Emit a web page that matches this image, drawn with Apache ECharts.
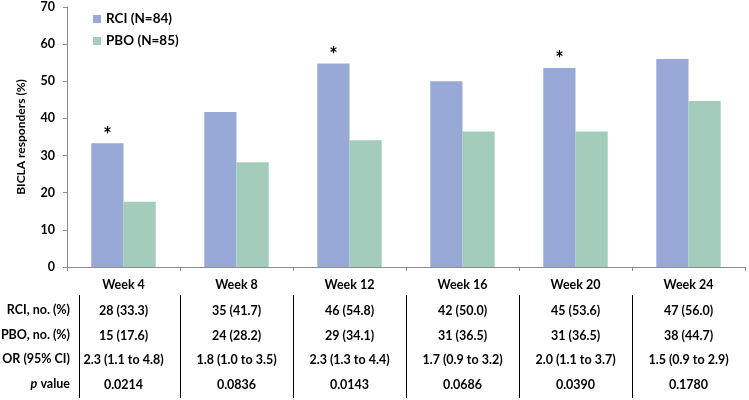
<!DOCTYPE html>
<html>
<head>
<meta charset="utf-8">
<script src="https://cdn.jsdelivr.net/npm/echarts@6/dist/echarts.min.js"></script>
<style>
html,body{margin:0;padding:0;background:#fff;}
#c{width:749px;height:400px;}
</style>
</head>
<body>
<div id="c"></div>
<script>
var weeks = ['Week 4', 'Week 8', 'Week 12', 'Week 16', 'Week 20', 'Week 24'];
var rciValues = [33.3, 41.7, 54.8, 50.0, 53.6, 56.0];
var pboValues = [17.6, 28.2, 34.1, 36.5, 36.5, 44.7];
var significant = ['*', '', '*', '', '*', ''];
var rciRow = ['28 (33.3)', '35 (41.7)', '46 (54.8)', '42 (50.0)', '45 (53.6)', '47 (56.0)'];
var pboRow = ['15 (17.6)', '24 (28.2)', '29 (34.1)', '31 (36.5)', '31 (36.5)', '38 (44.7)'];
var orRow = ['2.3 (1.1 to 4.8)', '1.8 (1.0 to 3.5)', '2.3 (1.3 to 4.4)', '1.7 (0.9 to 3.2)', '2.0 (1.1 to 3.7)', '1.5 (0.9 to 2.9)'];
var pRow = ['0.0214', '0.0836', '0.0143', '0.0686', '0.0390', '0.1780'];
var rowLabels = ['RCI, no. (%)', 'PBO, no. (%)', 'OR (95% CI)', '{i|p} value'];
var yTicks = [0, 10, 20, 30, 40, 50, 60, 70];

var FONT = 'Lato';
var TXT = '#000';
var TFS = 12.5;
var gridLeft = 67, gridRight = 4, gridTop = 7, gridBottom = 133;
var W = 749, H = 400;
var axisY = H - gridBottom;
var rowCenters = [44, 69, 93, 118];

function tableAxis(data, offset) {
  return {
    type: 'category', data: data, gridIndex: 0, position: 'bottom', offset: offset,
    axisLine: {show: false}, axisTick: {show: false},
    axisLabel: {margin: 0, verticalAlign: 'middle', fontFamily: FONT, fontWeight: 'bold', fontSize: TFS, color: TXT, interval: 0}
  };
}

var chart = echarts.init(document.getElementById('c'), null, {renderer: 'canvas'});
var xAxes = [{
  type: 'category', data: weeks, gridIndex: 0,
  axisLine: {lineStyle: {color: '#8c8c8c', width: 1}},
  axisTick: {show: true, length: 4, lineStyle: {color: '#8c8c8c'}},
  axisLabel: {margin: 18, verticalAlign: 'middle', fontFamily: FONT, fontWeight: 'bold', fontSize: TFS, color: TXT, interval: 0}
}];
[rciRow, pboRow, orRow, pRow].forEach(function (r, i) { xAxes.push(tableAxis(r, rowCenters[i])); });

var plotW = W - gridLeft - gridRight;
var catW = plotW / weeks.length;
var graphics = [];
rowLabels.forEach(function (t, i) {
  graphics.push({
    type: 'text', right: W - 70, top: axisY + rowCenters[i] - 8,
    style: {text: t, fontFamily: FONT, fontWeight: 'bold', fontSize: TFS, fill: TXT, align: 'right',
      rich: {i: {fontStyle: 'italic', fontFamily: FONT, fontWeight: 'bold', fontSize: TFS, fill: TXT}}}
  });
});
var seps = [79];
for (var k = 1; k < weeks.length; k++) seps.push(gridLeft + k * catW);
seps.forEach(function (x) {
  graphics.push({type: 'line', shape: {x1: Math.round(x) + 0.5, y1: 295, x2: Math.round(x) + 0.5, y2: 398}, style: {stroke: '#000', lineWidth: 1}});
});

chart.setOption({
  backgroundColor: '#fff',
  animation: false,
  grid: {left: gridLeft, right: gridRight, top: gridTop, bottom: gridBottom, containLabel: false},
  legend: {
    orient: 'vertical', left: 88, top: 7, itemWidth: 8, itemHeight: 8, itemGap: 8,
    icon: 'rect',
    textStyle: {fontFamily: FONT, fontWeight: 'bold', fontSize: 13.5, color: TXT},
    data: ['RCI (N=84)', 'PBO (N=85)']
  },
  xAxis: xAxes,
  yAxis: {
    type: 'value', min: 0, max: 70, interval: 10,
    name: 'BICLA responders (%)', nameLocation: 'middle', nameGap: 40,
    nameTextStyle: {fontFamily: FONT, fontWeight: 'bold', fontSize: 12, color: TXT},
    axisLine: {show: true, lineStyle: {color: '#8c8c8c'}},
    axisTick: {show: true, length: 4, lineStyle: {color: '#8c8c8c'}},
    axisLabel: {margin: 12, fontFamily: FONT, fontWeight: 'bold', fontSize: 12.5, color: TXT,
      formatter: function (v) { return yTicks.indexOf(v) >= 0 ? String(v) : ''; }},
    splitLine: {show: false}
  },
  series: [{
    name: 'RCI (N=84)', type: 'bar', data: rciValues, barGap: '0%', barCategoryGap: '43%',
    itemStyle: {color: '#98A9D7'},
    label: {show: true, position: 'top', distance: -2, fontFamily: FONT, fontWeight: 'bold', fontSize: 20, color: TXT,
      formatter: function (p) { return significant[p.dataIndex]; }}
  }, {
    name: 'PBO (N=85)', type: 'bar', data: pboValues, barGap: '0%', barCategoryGap: '43%',
    itemStyle: {color: '#A3CCBB'}
  }],
  graphic: graphics
});
</script>
</body>
</html>
